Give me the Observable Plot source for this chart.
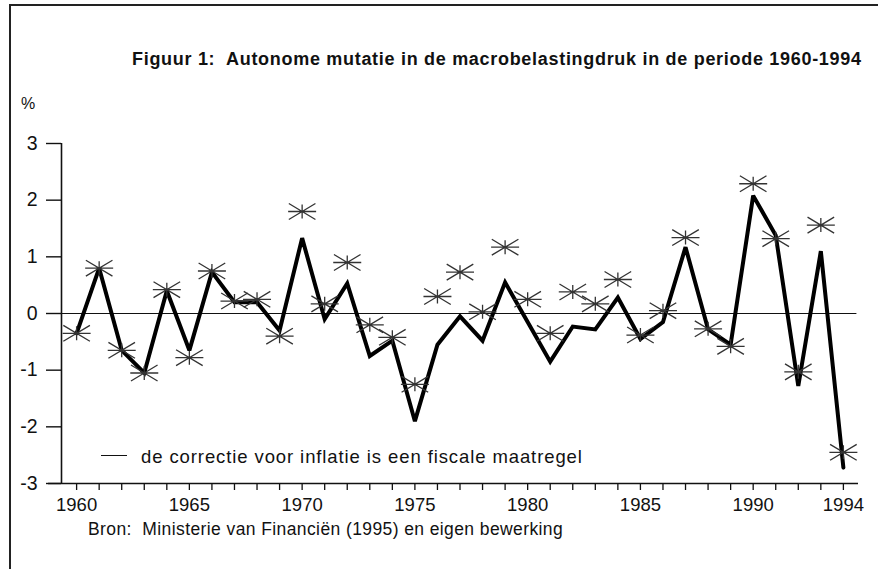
<!DOCTYPE html>
<html><head><meta charset="utf-8">
<script src="https://cdn.jsdelivr.net/npm/d3@7"></script>
<script src="https://cdn.jsdelivr.net/npm/@observablehq/plot@0.6"></script>
<style>
body{margin:0;background:#fff;}
#wrap{position:relative;width:878px;height:569px;overflow:hidden;font-family:"Liberation Sans",Arial,sans-serif;color:#111;background:#fff;}
#frame{position:absolute;left:9px;top:4px;right:-4px;bottom:-4px;border-left:2px solid #222;border-top:2px solid #222;}
.t{position:absolute;white-space:nowrap;line-height:1;}
#title{left:132px;top:50px;font-size:18px;font-weight:bold;letter-spacing:0.7px;}
#pct{left:21px;top:96px;font-size:16px;}
#cap{left:88px;top:521px;font-size:17.5px;letter-spacing:0.4px;}
#legline{position:absolute;left:101px;top:454.5px;width:26px;height:1.5px;background:#111;}
#legtxt{left:141px;top:448px;font-size:18.5px;letter-spacing:0.9px;}
#chart{position:absolute;left:0;top:120px;}
</style>
</head><body>
<div id="wrap">
  <div id="frame"></div>
  <div class="t" id="title">Figuur 1:&nbsp; Autonome mutatie in de macrobelastingdruk in de periode 1960-1994</div>
  <div class="t" id="pct">%</div>
  <div id="chart"></div>
  <div id="legline"></div>
  <div class="t" id="legtxt">de correctie voor inflatie is een fiscale maatregel</div>
  <div class="t" id="cap">Bron:&nbsp; Ministerie van Financiën (1995) en eigen bewerking</div>
</div>
<script>
const years = [1960,1961,1962,1963,1964,1965,1966,1967,1968,1969,
               1970,1971,1972,1973,1974,1975,1976,1977,1978,1979,
               1980,1981,1982,1983,1984,1985,1986,1987,1988,1989,
               1990,1991,1992,1993,1994];
// solid line: correction for inflation counted as a fiscal measure
const fiscal = [-0.35,0.80,-0.65,-1.05,0.40,-0.65,0.73,0.20,0.20,-0.30,
                1.33,-0.10,0.53,-0.75,-0.48,-1.90,-0.55,-0.05,-0.48,0.55,
                -0.15,-0.85,-0.23,-0.28,0.28,-0.45,-0.15,1.17,-0.28,-0.55,
                2.08,1.38,-1.28,1.10,-2.72];
// asterisks: correction for inflation not counted as a fiscal measure
const nonFiscal = [-0.35,0.80,-0.65,-1.05,0.42,-0.78,0.75,0.22,0.25,-0.40,
                   1.80,0.17,0.90,-0.20,-0.42,-1.25,0.30,0.73,0.03,1.17,
                   0.25,-0.35,0.38,0.17,0.60,-0.38,0.05,1.34,-0.27,-0.58,
                   2.29,1.32,-1.03,1.56,-2.45];
const yTicks = [-3,-2,-1,0,1,2,3];
const labelYears = [1960,1965,1970,1975,1980,1985,1990,1994];

const data = years.map((y,i)=>({year:y, fiscal:fiscal[i], nonFiscal:nonFiscal[i]}));

const star = {draw(ctx, size){
  const r = Math.sqrt(size/Math.PI);
  ctx.moveTo(-r,0); ctx.lineTo(r,0);
  ctx.moveTo(-r*0.95,-r*0.57); ctx.lineTo(r*0.95,r*0.57);
  ctx.moveTo(-r*0.95,r*0.57); ctx.lineTo(r*0.95,-r*0.57);
  ctx.moveTo(0,-r*0.5); ctx.lineTo(0,r*0.5);
}};

const xLo = 1959.33, xHi = 1994.67;
const chart = Plot.plot({
  width: 878, height: 400,
  marginLeft: 61, marginRight: 20, marginTop: 23, marginBottom: 37,
  x: {domain: [xLo, xHi]},
  y: {domain: [-3, 3]},
  style: {fontFamily: '"Liberation Sans",Arial,sans-serif', fontSize: "18.5px", color: "#111", background: "transparent", overflow: "visible"},
  marks: [
    Plot.ruleY([0], {x1: xLo, x2: 1994.6, stroke: "#111", strokeWidth: 1}),
    Plot.ruleX([xLo], {y1: -3, y2: 3, stroke: "#111", strokeWidth: 1.6}),
    Plot.ruleY([-3], {x1: 1958.75, x2: xHi, stroke: "#111", strokeWidth: 1.6}),
    Plot.axisY({ticks: yTicks, tickSize: 15, tickPadding: 9, label: null, tickFormat: d => String(d), strokeWidth: 1.4, fontSize: 19.5}),
    Plot.axisX({ticks: years, tickSize: 7, tickPadding: 7, label: null, tickFormat: d => labelYears.includes(d) ? String(d) : "", strokeWidth: 1.3, fontSize: 18.5}),
    Plot.line(data, {x: "year", y: "fiscal", stroke: "#000", strokeWidth: 4, strokeLinejoin: "miter", strokeMiterlimit: 3}),
    Plot.dot(data, {x: "year", y: "nonFiscal", symbol: star, r: 14, fill: "none", stroke: "#333", strokeWidth: 1.3})
  ]
});
document.getElementById("chart").appendChild(chart);
</script>
</body></html>
